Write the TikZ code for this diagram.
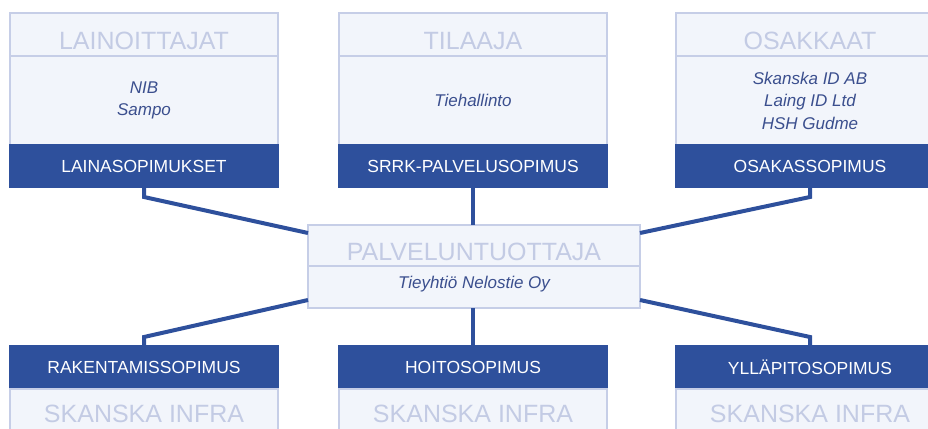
\documentclass[tikz,border=0pt]{standalone}
\usepackage{fontspec}
\setmainfont{Liberation Sans}
\usetikzlibrary{positioning,calc}
\definecolor{sininen}{HTML}{2E509C}
\definecolor{vaalea}{HTML}{F2F5FB}
\definecolor{reuna}{HTML}{C6CEE7}
\definecolor{otsikkovari}{HTML}{C3CBE4}
\definecolor{nimivari}{HTML}{3B4F8E}
\tikzset{laatikko/.style={draw=reuna, fill=vaalea, line width=1.6pt, inner sep=0pt, outer sep=0pt, minimum width=268pt}}
\tikzset{otsikko/.style={laatikko, text=otsikkovari, font=\fontsize{25}{30}\selectfont, text height=37pt, text depth=6pt}}
\tikzset{sisalto/.style={laatikko, text=nimivari, font=\fontsize{17}{22.5}\selectfont\itshape, align=center, minimum height=89pt}}
\tikzstyle{sopimus}=[draw=sininen, fill=sininen, line width=1.6pt, text=white, inner sep=0pt, outer sep=0pt, minimum width=268pt, minimum height=42pt, font=\fontsize{17.5}{20}\selectfont]
\tikzstyle{yhteys}=[draw=sininen, line width=4pt]

\begin{document}
\begin{tikzpicture}[x=1pt, y=-1pt, node distance=0pt]
\useasboundingbox (0,0) rectangle (928,428);
\clip (0,0) rectangle (928,428);
% ylarivi
\node[otsikko] (lainot) at (144,34.5) {LAINOITTAJAT};
\node[sisalto, below=of lainot] (lainob) {NIB\\Sampo};
\node[sopimus, below=of lainob] (lainos) {LAINASOPIMUKSET};
\node[otsikko] (tilaat) at (473,34.5) {TILAAJA};
\node[sisalto, below=of tilaat] (tilaab) {Tiehallinto};
\node[sopimus, below=of tilaab] (tilaas) {SRRK-PALVELUSOPIMUS};
\node[otsikko] (osakt) at (810,34.5) {OSAKKAAT};
\node[sisalto, below=of osakt] (osakb) {Skanska ID AB\\Laing ID Ltd\\HSH Gudme};
\node[sopimus, below=of osakb] (osaks) {OSAKASSOPIMUS};
% keskella
\node[otsikko, minimum width=332pt, text height=35pt] (palvt) at (474,245.5) {PALVELUNTUOTTAJA};
\node[sisalto, minimum width=332pt, minimum height=42pt, text depth=9pt, below=of palvt] (palvb) {Tieyhtiö Nelostie Oy};
% alarivi
\node[sopimus, minimum height=43pt] (raks) at (144,367.5) {RAKENTAMISSOPIMUS};
\node[otsikko, text height=33pt, text depth=20pt, below=of raks] (rakt) {SKANSKA INFRA};
\node[sopimus, minimum height=43pt] (hois) at (473,367.5) {HOITOSOPIMUS};
\node[otsikko, text height=33pt, text depth=20pt, below=of hois] (hoit) {SKANSKA INFRA};
\node[sopimus, minimum height=43pt] (ylls) at (810,367.5) {YLLÄPITOSOPIMUS};
\node[otsikko, text height=33pt, text depth=20pt, below=of ylls] (yllt) {SKANSKA INFRA};
% yhteydet
\draw[yhteys] (lainos.south) -- ++(0,10) -- ([yshift=-8pt]palvt.north west);
\draw[yhteys] (tilaas.south) -- (tilaas.south |- palvt.north);
\draw[yhteys] (osaks.south) -- ++(0,10) -- ([yshift=-8pt]palvt.north east);
\draw[yhteys] ([yshift=8pt]palvb.south west) -- ([yshift=9pt]raks.north) -- (raks.north);
\draw[yhteys] (hois.north) -- (hois.north |- palvb.south);
\draw[yhteys] ([yshift=8pt]palvb.south east) -- ([yshift=9pt]ylls.north) -- (ylls.north);
\end{tikzpicture}
\end{document}
